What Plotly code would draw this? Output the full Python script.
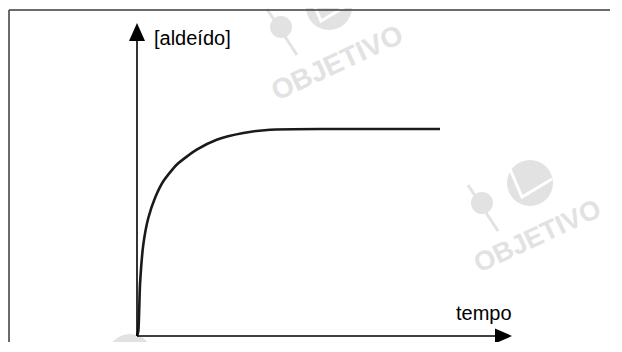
import plotly.graph_objects as go

# curve (x: tempo, y: [aldeído]) in arbitrary units
tempo = [0, 1.3, 3, 6.3, 11.3, 18, 26.3, 39.7, 59.7, 79.7, 106.3, 133, 193, 303]
aldeido = [0, 4.7, 51.3, 91.3, 118, 138, 154.7, 171.3, 186.3, 196.3, 203, 206.3, 207, 207]

x_label = "tempo"
y_label = "[aldeído]"
watermark = "OBJETIVO"

GRAY = "#e2e2e2"
FONT = "Liberation Sans, Arial, sans-serif"
PAGE = 8  # default body margin of the html page; keep the figure inside the window
CUT_W, CUT_H = 4, 2  # a little slack so the page never scrolls

fig = go.Figure()
fig.add_trace(go.Scatter(
    x=tempo, y=aldeido, mode="lines",
    line=dict(color="#1a1a1a", width=2.6, shape="spline", smoothing=0.6),
    hoverinfo="skip", showlegend=False,
))


def circle(cx, cy, r, color):
    return dict(type="circle", xref="x", yref="y", layer="below",
                x0=cx - r, x1=cx + r, y0=cy - r, y1=cy + r,
                fillcolor=color, line=dict(width=0))


def logo(cx, cy):
    # big disc, small disc and the white chevron of the watermark logo
    return [
        dict(type="line", xref="x", yref="y", layer="below",
             x0=cx - 62, y0=cy - 2, x1=cx - 32, y1=cy - 48,
             line=dict(color=GRAY, width=3)),
        circle(cx, cy, 23, GRAY),
        circle(cx - 48, cy - 20, 11, GRAY),
        dict(type="path", xref="x", yref="y", layer="below",
             path=f"M {cx-20},{cy+14} L {cx-8},{cy-14} L {cx+22},{cy+4}",
             line=dict(color="white", width=3)),
    ]


shapes = []
shapes += logo(192, 329)
shapes += logo(393, 153)
shapes += logo(-7, -21)

# frame around the figure: only left and top sides are inside the picture
shapes += [
    dict(type="line", xref="x", yref="y", x0=-128, x1=-128, y0=-60, y1=326,
         line=dict(color="#3a3a3a", width=1.5)),
    dict(type="line", xref="x", yref="y", x0=-128, x1=600, y0=326, y1=326,
         line=dict(color="#3a3a3a", width=1.5)),
]
# axes with arrow heads
shapes += [
    dict(type="line", xref="x", yref="y", x0=0, y0=0, x1=0, y1=300,
         line=dict(color="black", width=1.6)),
    dict(type="line", xref="x", yref="y", x0=0, y0=0, x1=362, y1=0,
         line=dict(color="black", width=1.6)),
    dict(type="path", xref="x", yref="y", path="M -8,295 L 8,295 L 0,313 Z",
         fillcolor="black", line=dict(width=0)),
    dict(type="path", xref="x", yref="y", path="M 358,7.5 L 358,-7.5 L 375,0 Z",
         fillcolor="black", line=dict(width=0)),
]

annotations = [
    dict(text=y_label, x=15, y=298, xanchor="left", yanchor="middle",
         font=dict(family=FONT, size=20, color="black")),
    dict(text=x_label, x=347, y=23, xanchor="center", yanchor="middle",
         font=dict(family=FONT, size=20, color="black")),
    dict(text=f"<b>{watermark}</b>", x=200, y=274, textangle=-25,
         font=dict(family=FONT, size=28, color=GRAY)),
    dict(text=f"<b>{watermark}</b>", x=400, y=100, textangle=-25,
         font=dict(family=FONT, size=27, color=GRAY)),
]
for a in annotations:
    a.update(xref="x", yref="y", showarrow=False)

fig.update_layout(
    width=622 - 2 * PAGE - CUT_W, height=352 - 2 * PAGE - CUT_H,
    margin=dict(l=0, r=0, t=0, b=0),
    paper_bgcolor="white", plot_bgcolor="white",
    shapes=shapes, annotations=annotations,
    xaxis=dict(range=[-137 + PAGE, 485 - PAGE - CUT_W], visible=False, fixedrange=True),
    yaxis=dict(range=[-16 + PAGE + CUT_H, 336 - PAGE], visible=False, fixedrange=True),
)

fig.write_html("out.html")
